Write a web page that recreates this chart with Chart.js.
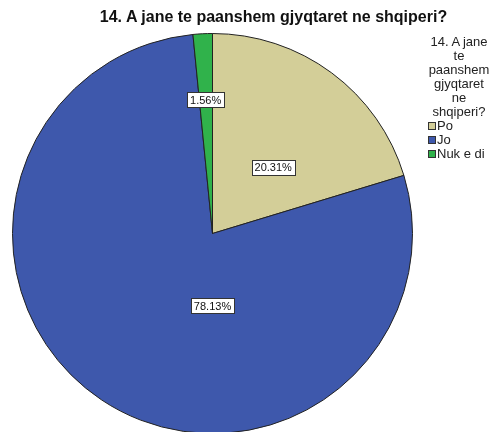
<!DOCTYPE html>
<html>
<head>
<meta charset="utf-8">
<script src="https://cdn.jsdelivr.net/npm/chart.js@4"></script>
<style>
  html, body { margin: 0; padding: 0; overflow: hidden; background: #fff; }
  #wrap { position: relative; width: 491px; height: 436px; }
  #title {
    position: absolute; left: 0; top: 7px; width: 547px; text-align: center;
    font: bold 16px "Liberation Sans", Arial, sans-serif; line-height: 20px; color: #111;
    white-space: nowrap;
  }
  #legend {
    position: absolute; left: 425px; top: 35px; width: 68px;
    font: 13px "Liberation Sans", Arial, sans-serif; color: #222;
  }
  #legend .ttl { text-align: center; line-height: 14px; white-space: nowrap; }
  #legend .item { line-height: 14px; margin-left: 3px; white-space: nowrap; }
  #legend .sw {
    display: inline-block; width: 6px; height: 6px; border: 1px solid #333;
    vertical-align: 0px; margin-right: 1px;
  }
</style>
</head>
<body>
<div id="wrap">
  <canvas id="pie" width="491" height="436"></canvas>
  <div id="title"></div>
  <div id="legend"></div>
</div>
<script>
const chartTitle = '14. A jane te paanshem gjyqtaret ne shqiperi?';
const legendTitle = ['14. A jane', 'te', 'paanshem', 'gjyqtaret', 'ne', 'shqiperi?'];
const categories = ['Po', 'Jo', 'Nuk e di'];
const percents = [20.31, 78.13, 1.56];
const sliceColors = ['#d3ce98', '#3e58ac', '#30b24b'];

// where each percent label sits inside its slice (fraction of radius, fraction of slice angle)
const labelRadius = [0.45, 0.36, 0.67];
const labelSpan = [0.58, 0.38, 0.48];

document.getElementById('title').textContent = chartTitle;

// build legend
const legendEl = document.getElementById('legend');
legendEl.innerHTML = '<div class="ttl">' + legendTitle.join('<br>') + '</div>' +
    categories.map((c, i) =>
        `<div class="item"><span class="sw" style="background:${sliceColors[i]}"></span>${c}</div>`
    ).join('');

const percentLabels = {
    id: 'percentLabels',
    afterDatasetsDraw(chart) {
        const ctx = chart.ctx;
        const meta = chart.getDatasetMeta(0);
        ctx.save();
        ctx.font = '11px "Liberation Sans", Arial, sans-serif';
        ctx.textAlign = 'center';
        ctx.textBaseline = 'middle';
        meta.data.forEach((arc, i) => {
            const p = arc.getProps(['x', 'y', 'startAngle', 'endAngle', 'outerRadius'], true);
            const a = p.startAngle + (p.endAngle - p.startAngle) * labelSpan[i];
            const r = p.outerRadius * labelRadius[i];
            const x = p.x + Math.cos(a) * r;
            const y = p.y + Math.sin(a) * r;
            const txt = percents[i].toFixed(2) + '%';
            const w = Math.round(ctx.measureText(txt).width + 6);
            const h = 15;
            const bx = Math.round(x - w / 2) + 0.5;
            const by = Math.round(y - h / 2) + 0.5;
            ctx.fillStyle = '#fff';
            ctx.fillRect(bx, by, w, h);
            ctx.strokeStyle = '#333';
            ctx.lineWidth = 1;
            ctx.strokeRect(bx, by, w, h);
            ctx.fillStyle = '#111';
            ctx.fillText(txt, x, y + 1);
        });
        ctx.restore();
    }
};

new Chart(document.getElementById('pie').getContext('2d'), {
    type: 'pie',
    data: {
        labels: categories,
        datasets: [{
            data: percents,
            backgroundColor: sliceColors,
            borderColor: '#222',
            borderWidth: 1,
            hoverOffset: 0
        }]
    },
    options: {
        responsive: false,
        devicePixelRatio: 1,
        animation: false,
        events: [],
        layout: { padding: { left: 12, right: 78, top: 33, bottom: 2 } },
        plugins: {
            legend: { display: false },
            tooltip: { enabled: false },
            title: { display: false }
        }
    },
    plugins: [percentLabels]
});
</script>
</body>
</html>
